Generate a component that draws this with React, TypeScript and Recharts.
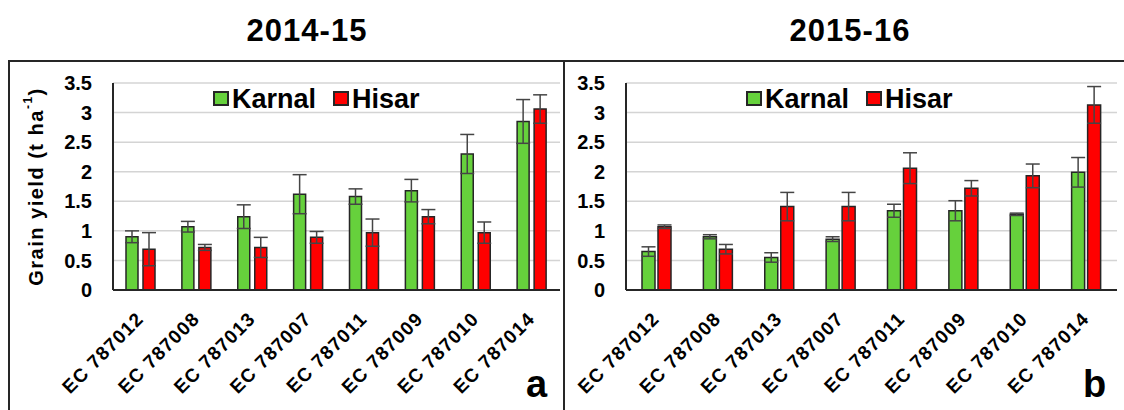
import React from 'react';
import {
  BarChart,
  Bar,
  XAxis,
  YAxis,
  CartesianGrid,
  Legend,
  ErrorBar,
  Label,
} from 'recharts';

const categories = [
  'EC 787012',
  'EC 787008',
  'EC 787013',
  'EC 787007',
  'EC 787011',
  'EC 787009',
  'EC 787010',
  'EC 787014',
];

// 2014-15
const karnal1415 = [0.9, 1.07, 1.24, 1.62, 1.58, 1.68, 2.3, 2.85];
const karnal1415Err = [0.1, 0.09, 0.2, 0.33, 0.13, 0.19, 0.33, 0.37];
const hisar1415 = [0.69, 0.72, 0.72, 0.89, 0.97, 1.24, 0.97, 3.06];
const hisar1415Err = [0.28, 0.05, 0.17, 0.1, 0.23, 0.12, 0.18, 0.24];

// 2015-16
const karnal1516 = [0.65, 0.9, 0.55, 0.86, 1.34, 1.34, 1.28, 1.99];
const karnal1516Err = [0.08, 0.035, 0.08, 0.04, 0.11, 0.17, 0.02, 0.25];
const hisar1516 = [1.07, 0.69, 1.41, 1.41, 2.06, 1.72, 1.93, 3.13];
const hisar1516Err = [0.03, 0.08, 0.24, 0.24, 0.26, 0.13, 0.2, 0.31];

const yTicks = [0, 0.5, 1, 1.5, 2, 2.5, 3, 3.5];

const FONT = '"Liberation Sans", Arial, sans-serif';
const GREEN = '#66d13c';
const RED = '#ff0000';
const EDGE = '#262626';

const build = (k: number[], kE: number[], h: number[], hE: number[]) =>
  categories.map((name, i) => ({
    name,
    karnal: k[i],
    karnalErr: kE[i],
    hisar: h[i],
    hisarErr: hE[i],
  }));

const data1415 = build(karnal1415, karnal1415Err, hisar1415, hisar1415Err);
const data1516 = build(karnal1516, karnal1516Err, hisar1516, hisar1516Err);

const RotTick = ({ x, y, payload }: any) => (
  <text
    x={x + 4}
    y={y + 30}
    transform={`rotate(-45, ${x + 4}, ${y + 30})`}
    textAnchor="end"
    fontFamily={FONT}
    fontWeight="bold"
    fontSize={19}
    letterSpacing={1.2}
    fill="#000"
  >
    {payload.value}
  </text>
);

// legend drawn as one svg strip so the swatches keep their size
const LegendBox = () => (
  <svg width={215} height={30} style={{ display: 'block', overflow: 'visible' }}>
    <rect x={1} y={9} width={14} height={13} fill={GREEN} stroke={EDGE} strokeWidth={2} />
    <text x={19} y={25} fontFamily={FONT} fontWeight="bold" fontSize={27} fill="#000">
      Karnal
    </text>
    <rect x={121} y={9} width={14} height={13} fill={RED} stroke={EDGE} strokeWidth={2} />
    <text x={139} y={25} fontFamily={FONT} fontWeight="bold" fontSize={27} fill="#000">
      Hisar
    </text>
  </svg>
);

const YLabel = ({ viewBox }: any) => {
  const cx = 36;
  const cy = viewBox.y + viewBox.height / 2;
  return (
    <text
      x={cx}
      y={cy}
      transform={`rotate(-90, ${cx}, ${cy})`}
      textAnchor="middle"
      dominantBaseline="central"
      fontFamily={FONT}
      fontWeight="bold"
      fontSize={20}
      letterSpacing={1.5}
      fill="#000"
    >
      Grain yield (t ha
      <tspan dy={-8} fontSize={12}>-1</tspan>
      <tspan dy={8}>)</tspan>
    </text>
  );
};

interface PanelProps {
  data: any[];
  width: number;
  yAxisWidth: number;
  marginRight: number;
  barSize: number;
  barGap: number;
  legendLeft: number;
  showYLabel?: boolean;
}

function Panel({ data, width, yAxisWidth, marginRight, barSize, barGap, legendLeft, showYLabel }: PanelProps) {
  return (
    <BarChart
      width={width}
      height={410}
      data={data}
      margin={{ top: 83, right: marginRight, left: 0, bottom: 0 }}
      barSize={barSize}
      barGap={barGap}
    >
      <CartesianGrid vertical={false} stroke="#d4d4d4" strokeWidth={1.5} />
      <XAxis
        dataKey="name"
        height={120}
        interval={0}
        tickLine={false}
        tickSize={0}
        tickMargin={0}
        axisLine={{ stroke: EDGE, strokeWidth: 2 }}
        tick={<RotTick />}
      />
      <YAxis
        width={yAxisWidth}
        domain={[0, 3.5]}
        ticks={yTicks}
        interval={0}
        tickLine={false}
        tickSize={0}
        tickMargin={21}
        axisLine={{ stroke: EDGE, strokeWidth: 2 }}
        tick={{ fontFamily: FONT, fontWeight: 'bold', fontSize: 20, fill: '#000' }}
      >
        {showYLabel && <Label content={<YLabel />} />}
      </YAxis>
      <Legend
        verticalAlign="middle"
        align="center"
        layout="horizontal"
        wrapperStyle={{ top: 83, left: legendLeft, width: 215, height: 30 }}
        content={() => <LegendBox />}
      />
      <Bar dataKey="karnal" name="Karnal" fill={GREEN} stroke={EDGE} strokeWidth={1.5} isAnimationActive={false}>
        <ErrorBar dataKey="karnalErr" direction="y" width={7} stroke="#454545" strokeWidth={1.5} />
      </Bar>
      <Bar dataKey="hisar" name="Hisar" fill={RED} stroke={EDGE} strokeWidth={1.5} isAnimationActive={false}>
        <ErrorBar dataKey="hisarErr" direction="y" width={7} stroke="#454545" strokeWidth={1.5} />
      </Bar>
    </BarChart>
  );
}

const titleStyle: React.CSSProperties = {
  position: 'absolute',
  top: 13,
  fontFamily: FONT,
  fontWeight: 'bold',
  fontSize: 31,
  letterSpacing: 1,
  lineHeight: '36px',
  color: '#000',
  transform: 'translateX(-50%)',
  whiteSpace: 'nowrap',
};

const letterStyle: React.CSSProperties = {
  position: 'absolute',
  top: 364,
  fontFamily: FONT,
  fontWeight: 'bold',
  fontSize: 38,
  lineHeight: '40px',
  color: '#000',
};

export default function App() {
  return (
    <div
      style={{
        position: 'absolute',
        left: 0,
        top: 0,
        width: 1124,
        height: 410,
        overflow: 'hidden',
        background: '#fff',
      }}
    >
      <div
        style={{
          position: 'absolute',
          left: 8,
          top: 60,
          width: 557,
          height: 400,
          border: `2px solid ${EDGE}`,
          boxSizing: 'border-box',
        }}
      />
      <div
        style={{
          position: 'absolute',
          left: 563,
          top: 60,
          width: 600,
          height: 2,
          background: EDGE,
        }}
      />
      <div style={{ ...titleStyle, left: 307 }}>2014-15</div>
      <div style={{ ...titleStyle, left: 850 }}>2015-16</div>

      <div style={{ position: 'absolute', left: 0, top: 0 }}>
        <Panel
          data={data1415}
          width={564}
          yAxisWidth={113}
          marginRight={4}
          barSize={12}
          barGap={5}
          legendLeft={213}
          showYLabel
        />
      </div>
      <div style={{ position: 'absolute', left: 564, top: 0 }}>
        <Panel
          data={data1516}
          width={560}
          yAxisWidth={62}
          marginRight={7}
          barSize={13}
          barGap={3}
          legendLeft={182}
        />
      </div>

      <div style={{ ...letterStyle, left: 526 }}>a</div>
      <div style={{ ...letterStyle, left: 1083 }}>b</div>
    </div>
  );
}
